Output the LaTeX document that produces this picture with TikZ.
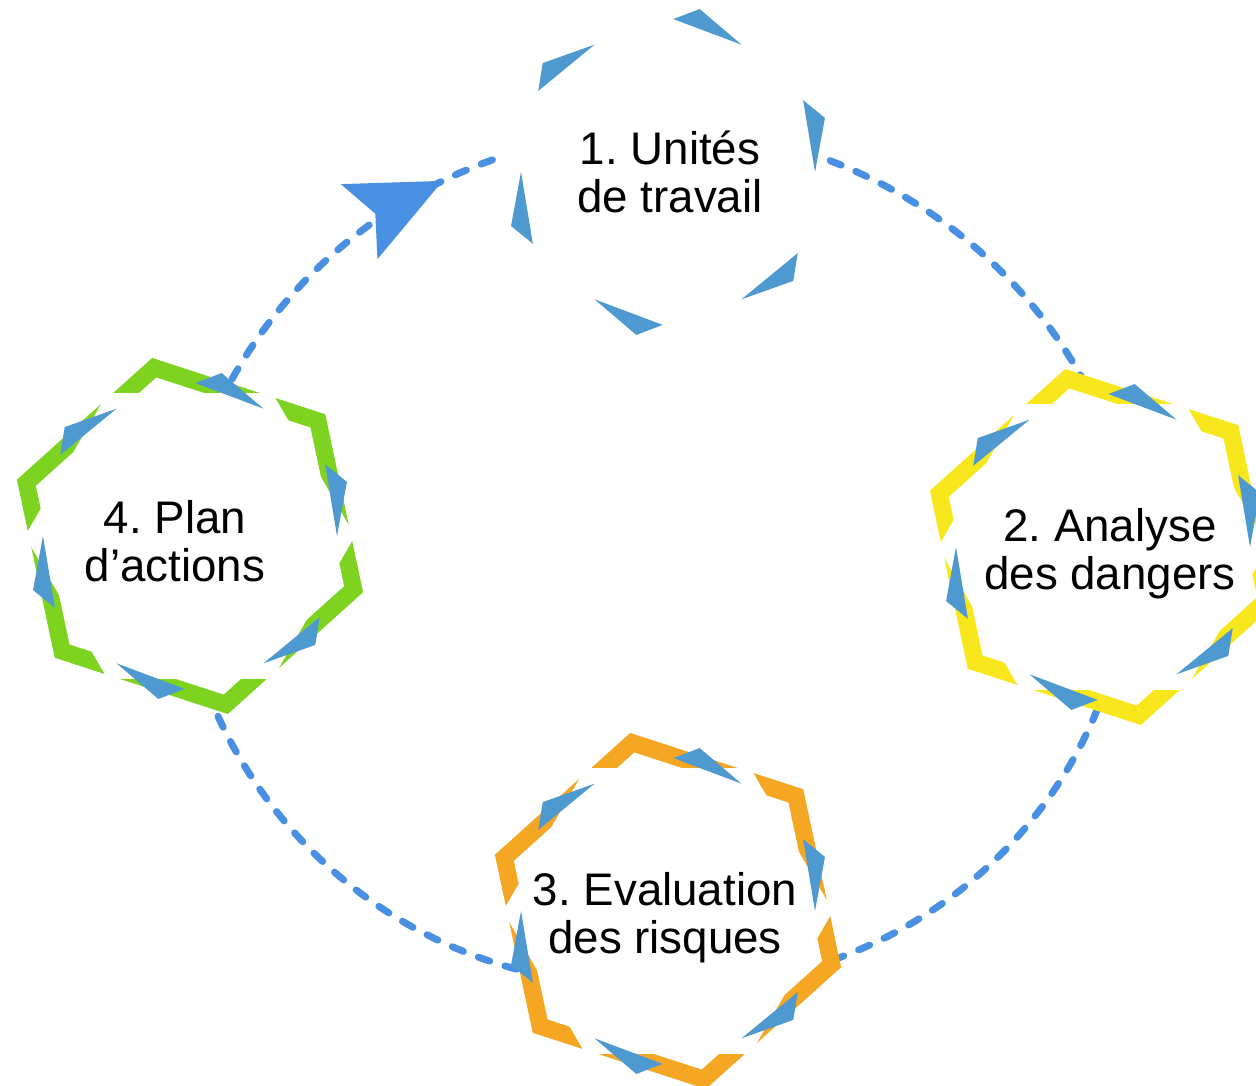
\documentclass[tikz,border=0pt]{standalone}
\usepackage{fontspec}
\setmainfont{Liberation Sans}
\usetikzlibrary{arrows.meta,decorations.markings}
\frenchspacing

% capas: conectores detras, hexagonos, texto delante
\pgfdeclarelayer{fondo}
\pgfdeclarelayer{hexas}
\pgfsetlayers{fondo,hexas,main}

\definecolor{azul}{HTML}{4A90E2}
\definecolor{azulhoja}{HTML}{4F99D1}
\definecolor{verde}{HTML}{7ED321}
\definecolor{amarillo}{HTML}{F8E71C}
\definecolor{naranja}{HTML}{F5A623}

% hexagono alrededor del nodo #1, color del borde #2
\newcommand{\hexagono}[2]{%
  \begin{pgfonlayer}{hexas}
    \begin{scope}[shift={(#1.center)}]
      \fill[#2] (-18:182) \foreach \a in {42,102,...,282} {-- (\a:182)} -- cycle;
      \fill[white] (-18:162) \foreach \a in {42,102,...,282} {-- (\a:162)} -- cycle;
      \fill[white] (0:165) \foreach \a in {60,120,...,300} {-- (\a:165)} -- cycle;
      \foreach \a in {0,60,...,300}
        \fill[hoja] (\a:147) -- (\a+19:166) -- (\a+28:153) -- cycle;
    \end{scope}
  \end{pgfonlayer}}

\begin{document}
\begin{tikzpicture}[x=0.02cm, y=0.02cm]
  % definicion de estilos
  \tikzset{
    % caja del hexagono (invisible)
    hexa/.style={
           circle,
           inner sep=0pt,
           minimum size=6.48cm},
    texto/.style={
           align=center,
           font=\fontsize{26}{27.5}\selectfont},
    hoja/.style={fill=azulhoja},
    % Define arrow style
    arco/.style={
           azul,
           line width=0.14cm,
           line cap=round,
           dash pattern=on 0.24cm off 0.32cm},
    flecha/.style={
           arco,
           postaction={decorate},
           decoration={markings,
             mark=at position 0.81 with {\arrow{Stealth[length=1.85cm, width=1.65cm, inset=0.35cm]}}}}
    }
  \useasboundingbox (0,0) rectangle (1256,1085);

  % Gráfico
  \node[hexa] (h1) at (668,913) {};
  \node[hexa] (h2) at (1103,538) {};
  \node[hexa] (h3) at (668,174) {};
  \node[hexa] (h4) at (190,549) {};
  \hexagono{h1}{white}
  \hexagono{h2}{amarillo}
  \hexagono{h3}{naranja}
  \hexagono{h4}{verde}

  \node[texto] (t1) at ([shift={(2,0)}]h1.center) {1. Unités\\de travail};
  \node[texto] (t2) at ([shift={(7,-7)}]h2.center) {2. Analyse\\des dangers};
  \node[texto] (t3) at ([shift={(-3,-7)}]h3.center) {3. Evaluation\\des risques};
  \node[texto] (t4) at ([shift={(-15,-5)}]h4.center) {4. Plan\\d’actions};

  \begin{pgfonlayer}{fondo}
    \draw[arco] (h1.4) to[out=-21, in=118, looseness=0.88] (h2.96);
    \draw[arco] (h2.268) to[out=248, in=18, looseness=0.89] (h3.341);
    \draw[arco] (h3.201) to[out=165, in=292, looseness=0.9] (h4.277);
    \draw[flecha] (h4.75) to[out=61, in=198, looseness=0.88] (h1.174);
  \end{pgfonlayer}
\end{tikzpicture}
\end{document}
